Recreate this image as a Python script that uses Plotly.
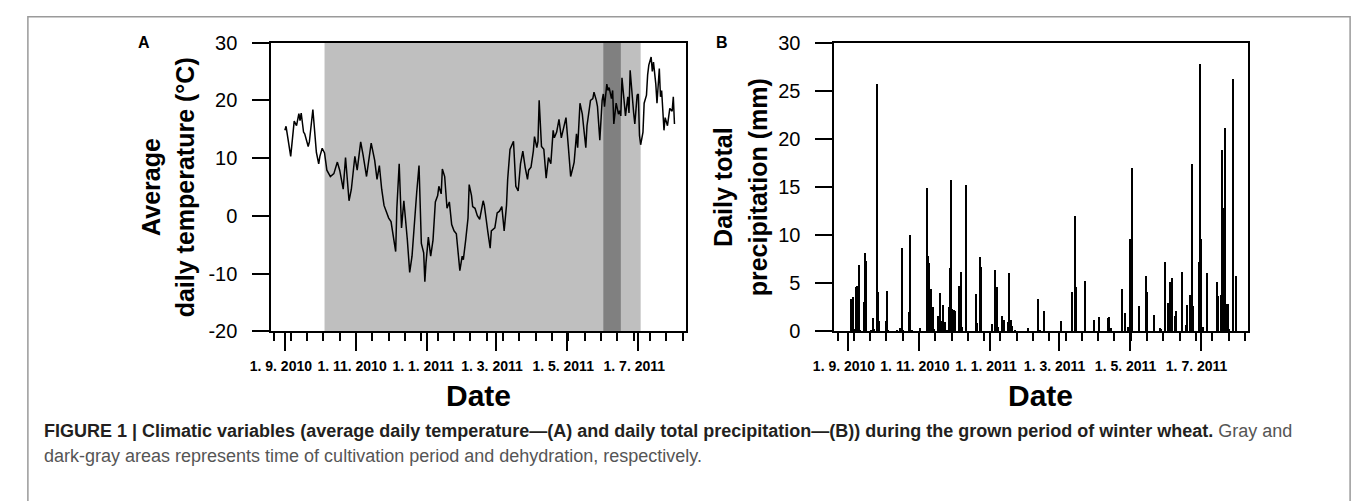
import pandas as pd
import plotly.graph_objects as go

# ---------------- data ----------------
start_date = "2010-09-01"

temp_day = [0, 1, 5, 8, 10, 12, 13, 14, 16, 17, 20, 21, 24, 26, 27, 29, 30, 32, 34, 36,
            39, 42, 44, 45, 47, 50, 52, 55, 57, 60, 62, 64, 65, 67, 70, 74, 77, 79, 81, 83,
            85, 87, 89, 91, 95, 96, 98, 100, 102, 105, 107, 109, 111, 113, 115, 117, 119, 120, 121, 123,
            125, 127, 129, 131, 132, 134, 135, 137, 139, 141, 143, 145, 147, 150, 152, 153, 155, 157, 158, 160,
            161, 163, 165, 167, 170, 171, 174, 176, 177, 180, 182, 184, 186, 188, 190, 191, 193, 196, 198, 200,
            202, 204, 206, 208, 209, 211, 213, 214, 216, 217, 218, 220, 222, 224, 226, 228, 230, 231, 233, 235,
            237, 239, 241, 243, 245, 247, 248, 250, 251, 253, 255, 256, 258, 259, 262, 264, 265, 267, 268, 270,
            272, 273, 274, 276, 277, 278, 280, 281, 282, 284, 286, 287, 288, 289, 291, 292, 294, 295, 296, 298,
            299, 300, 302, 303, 304, 305, 307, 308, 310, 311, 312, 314, 315, 316, 318, 319, 321, 322, 323, 325,
            326, 328, 329, 330, 332, 333, 334]
temp_value = [14.8, 15.5, 10.3, 16.4, 15.6, 17.7, 16.5, 17.8, 14.5, 14.2, 12.0, 12.8, 18.4, 12.3, 11.0, 9.0, 10.3, 11.7, 10.9, 7.9,
              6.8, 7.3, 9.0, 9.3, 7.9, 4.6, 10.1, 2.6, 4.6, 10.3, 7.9, 12.0, 12.8, 10.6, 6.8, 12.6, 9.6, 6.3, 8.7, 4.6,
              1.8, 0.7, -0.4, -1.0, -6.2, 1.3, 9.0, -2.1, 2.6, -4.2, -9.8, -7.0, -1.0, 4.0, 8.7, -4.8, -6.4, -11.4, -8.1, -3.7,
              -7.0, -4.2, 2.4, 3.5, 5.1, 3.8, 8.1, 6.8, 1.3, 2.4, -1.5, -2.6, -3.1, -9.5, -7.0, -7.6, -4.2, -0.4, 5.4, 3.5,
              1.6, 1.3, 0.0, -0.6, 2.6, 1.8, -2.8, -5.6, -2.6, -2.1, 0.5, 0.8, 1.6, -2.6, 1.8, 6.3, 11.5, 12.9, 5.1, 4.3,
              9.0, 11.2, 8.4, 6.3, 7.9, 8.4, 11.2, 13.7, 11.8, 12.9, 20.0, 12.0, 11.5, 6.5, 10.1, 9.0, 14.8, 13.5, 14.5, 16.7,
              13.5, 15.1, 17.0, 12.0, 6.8, 8.4, 9.3, 14.2, 11.8, 19.5, 17.6, 15.6, 11.8, 15.6, 20.0, 20.3, 21.4, 20.0, 18.9, 13.1,
              20.0, 21.1, 18.9, 22.8, 21.7, 22.2, 20.3, 21.7, 15.9, 19.5, 17.6, 18.2, 17.3, 23.9, 19.5, 17.3, 20.6, 17.8, 25.2, 19.5,
              17.8, 15.9, 20.9, 21.1, 13.9, 12.3, 14.5, 19.5, 20.9, 24.4, 26.1, 27.5, 25.0, 26.6, 22.8, 19.5, 25.5, 20.6, 21.7, 14.8,
              17.0, 15.6, 17.3, 18.6, 18.1, 20.6, 15.9]

precip_day = [3, 4, 5, 6, 7, 8, 9, 10, 11, 14, 15, 16, 20, 22, 23, 25, 26, 27, 33, 34,
              35, 42, 45, 47, 48, 53, 54, 55, 62, 68, 69, 70, 72, 73, 74, 78, 79, 80, 82, 84,
              85, 87, 88, 89, 90, 91, 92, 96, 97, 98, 102, 110, 111, 114, 115, 124, 127, 128, 129, 133,
              134, 138, 139, 140, 141, 144, 155, 164, 165, 169, 183, 193, 195, 196, 204, 212, 216, 224, 225, 226,
              236, 238, 241, 243, 244, 250, 256, 257, 263, 268, 269, 273, 275, 277, 278, 279, 281, 282, 287, 291,
              292, 294, 296, 297, 302, 303, 304, 305, 309, 317, 318, 321, 322, 323, 324, 325, 326, 327, 328, 331,
              334]
precip_value = [3.4, 0.3, 3.6, 0.3, 4.6, 4.8, 1.1, 6.9, 0.2, 3.1, 8.2, 7.4, 0.2, 1.4, 0.3, 25.7, 4.1, 1.1, 1.1, 4.2,
                0.2, 0.2, 0.4, 8.7, 0.2, 2.1, 10.0, 0.2, 0.4, 14.9, 7.9, 7.1, 4.4, 2.6, 0.3, 1.6, 4.0, 1.1, 2.8, 1.0,
                0.2, 2.6, 6.6, 15.8, 2.4, 2.3, 2.2, 4.8, 6.2, 0.5, 15.2, 3.9, 0.9, 7.8, 6.7, 0.8, 6.4, 4.7, 0.5, 1.6,
                1.2, 1.0, 6.1, 1.2, 0.6, 0.2, 0.4, 3.4, 0.2, 2.2, 1.1, 4.1, 12.0, 4.6, 5.3, 1.2, 1.5, 1.4, 1.5, 0.4,
                4.4, 1.9, 0.5, 9.6, 17.0, 2.7, 5.8, 4.1, 1.7, 0.4, 0.3, 7.2, 3.0, 5.2, 4.8, 5.6, 1.6, 2.2, 6.2, 0.7,
                2.8, 3.8, 17.4, 2.7, 7.2, 27.8, 9.6, 0.5, 6.1, 5.2, 3.7, 3.8, 18.9, 12.9, 21.2, 1.3, 2.9, 2.9, 0.3, 26.3,
                5.8]

cultivation_period = ["2010-10-05", "2011-07-03"]
dehydration_period = ["2011-06-01", "2011-06-16"]

x_range = ["2010-08-20 04:00", "2011-08-10 12:00"]
tick_dates = ["2010-09-01", "2010-11-01", "2011-01-01", "2011-03-01", "2011-05-01", "2011-07-01"]
tick_labels = ["1. 9. 2010", "1. 11. 2010", "1. 1. 2011", "1. 3. 2011", "1. 5. 2011", "1. 7. 2011"]
minor_tick0 = "2010-08-23"

temp_ticks = [-20, -10, 0, 10, 20, 30]
temp_tick_text = ["-20", "-10", "0", "10", "20", "30"]
precip_ticks = [0, 5, 10, 15, 20, 25, 30]
precip_tick_text = ["0", "5", "10", "15", "20", "25", "30"]

caption_bold = ("FIGURE 1 | Climatic variables (average daily temperature\u2014(A) and daily total "
                "precipitation\u2014(B)) during the grown period of winter wheat.")
caption_rest1 = " Gray and"
caption_line2 = "dark-gray areas represents time of cultivation period and dehydration, respectively."

# ---------------- figure ----------------
W, H = 1357, 501
FONT = "Liberation Sans, Arial, Helvetica, sans-serif"

start = pd.Timestamp(start_date)
temp_dates = [start + pd.Timedelta(days=d) for d in temp_day]
precip_dates = [start + pd.Timedelta(days=d) for d in precip_day]


def px_x(p):
    return p / W


def px_y(p):
    return 1 - p / H


fig = go.Figure()
fig.add_trace(go.Scatter(x=temp_dates, y=temp_value, mode="lines",
                         line=dict(color="black", width=1.5), xaxis="x", yaxis="y",
                         showlegend=False, hoverinfo="skip"))
fig.add_trace(go.Bar(x=precip_dates, y=precip_value, xaxis="x2", yaxis="y2",
                     width=86400000 * 1.1, marker=dict(color="black", line=dict(width=0)),
                     showlegend=False, hoverinfo="skip"))

DAY_MS = 86400000
xcommon = dict(type="date", range=x_range, tickmode="array", tickvals=tick_dates, ticktext=tick_labels,
               ticks="outside", ticklen=18, tickwidth=1.5, tickcolor="black",
               showline=True, linecolor="black", linewidth=1.5, mirror=True,
               showgrid=False, zeroline=False,
               tickfont=dict(family=FONT, size=14, color="black", weight="bold"),
               ticklabelstandoff=3, ticklabelshift=-4,
               minor=dict(ticks="outside", ticklen=8, tickwidth=1.5, tickcolor="black",
                          tick0=minor_tick0, dtick=14 * DAY_MS, showgrid=False))
ycommon = dict(ticks="outside", ticklen=17, tickwidth=1.5, tickcolor="black",
               showline=True, linecolor="black", linewidth=1.5, mirror=True,
               showgrid=False, zeroline=False, tickmode="array",
               tickfont=dict(family=FONT, size=20, color="black"),
               ticklabelstandoff=11)

ydom = [px_y(335), px_y(33)]
fig.update_layout(
    width=W, height=H, margin=dict(l=0, r=0, t=0, b=0),
    paper_bgcolor="white", plot_bgcolor="white",
    xaxis=dict(domain=[px_x(254), px_x(675)], anchor="y", **xcommon),
    yaxis=dict(domain=ydom, anchor="x", range=[-20, 30], tickvals=temp_ticks,
               ticktext=temp_tick_text, **ycommon),
    xaxis2=dict(domain=[px_x(826), px_x(1246)], anchor="y2", **xcommon),
    yaxis2=dict(domain=ydom, anchor="x2", range=[0, 30], tickvals=precip_ticks,
                ticktext=precip_tick_text, **ycommon),
    bargap=0,
)

# shaded periods
fig.add_shape(type="rect", xref="x", yref="y domain", x0=cultivation_period[0], x1=cultivation_period[1],
              y0=0, y1=1, fillcolor="#bfbfbf", line=dict(width=0), layer="below")
fig.add_shape(type="rect", xref="x", yref="y domain", x0=dehydration_period[0], x1=dehydration_period[1],
              y0=0, y1=1, fillcolor="#808080", line=dict(width=0), layer="below")

# outer frame
fig.add_shape(type="rect", xref="paper", yref="paper", x0=px_x(7), x1=px_x(1350), y0=-0.05, y1=px_y(6),
              line=dict(color="#9a9a9a", width=1.5), fillcolor="rgba(0,0,0,0)", layer="below")


def add_text(text, x, y, size, bold=False, angle=0, xanchor="center", color="black"):
    fig.add_annotation(text=text, x=px_x(x), y=px_y(y), xref="paper", yref="paper",
                       showarrow=False, textangle=angle, xanchor=xanchor, yanchor="middle",
                       font=dict(family=FONT, size=size, color=color, weight="bold" if bold else "normal"))


add_text("A", 125, 33, 16, bold=True)
add_text("B", 712, 33, 16, bold=True)
add_text("Average", 132, 184, 25, bold=True, angle=-90)
add_text("daily temperature (\u00b0C)", 167, 184, 25, bold=True, angle=-90)
add_text("Daily total", 713, 184, 25, bold=True, angle=-90)
add_text("precipitation (mm)", 749, 184, 25, bold=True, angle=-90)
add_text("Date", 464.5, 402, 30, bold=True)
add_text("Date", 1036, 402, 30, bold=True)
add_text("<b>" + caption_bold + "</b><span style='color:#555555'>" + caption_rest1 + "</span>",
         21, 439, 18, xanchor="left", color="#231f20")
add_text(caption_line2, 21, 465, 18, xanchor="left", color="#555555")

fig.write_html("out.html")
